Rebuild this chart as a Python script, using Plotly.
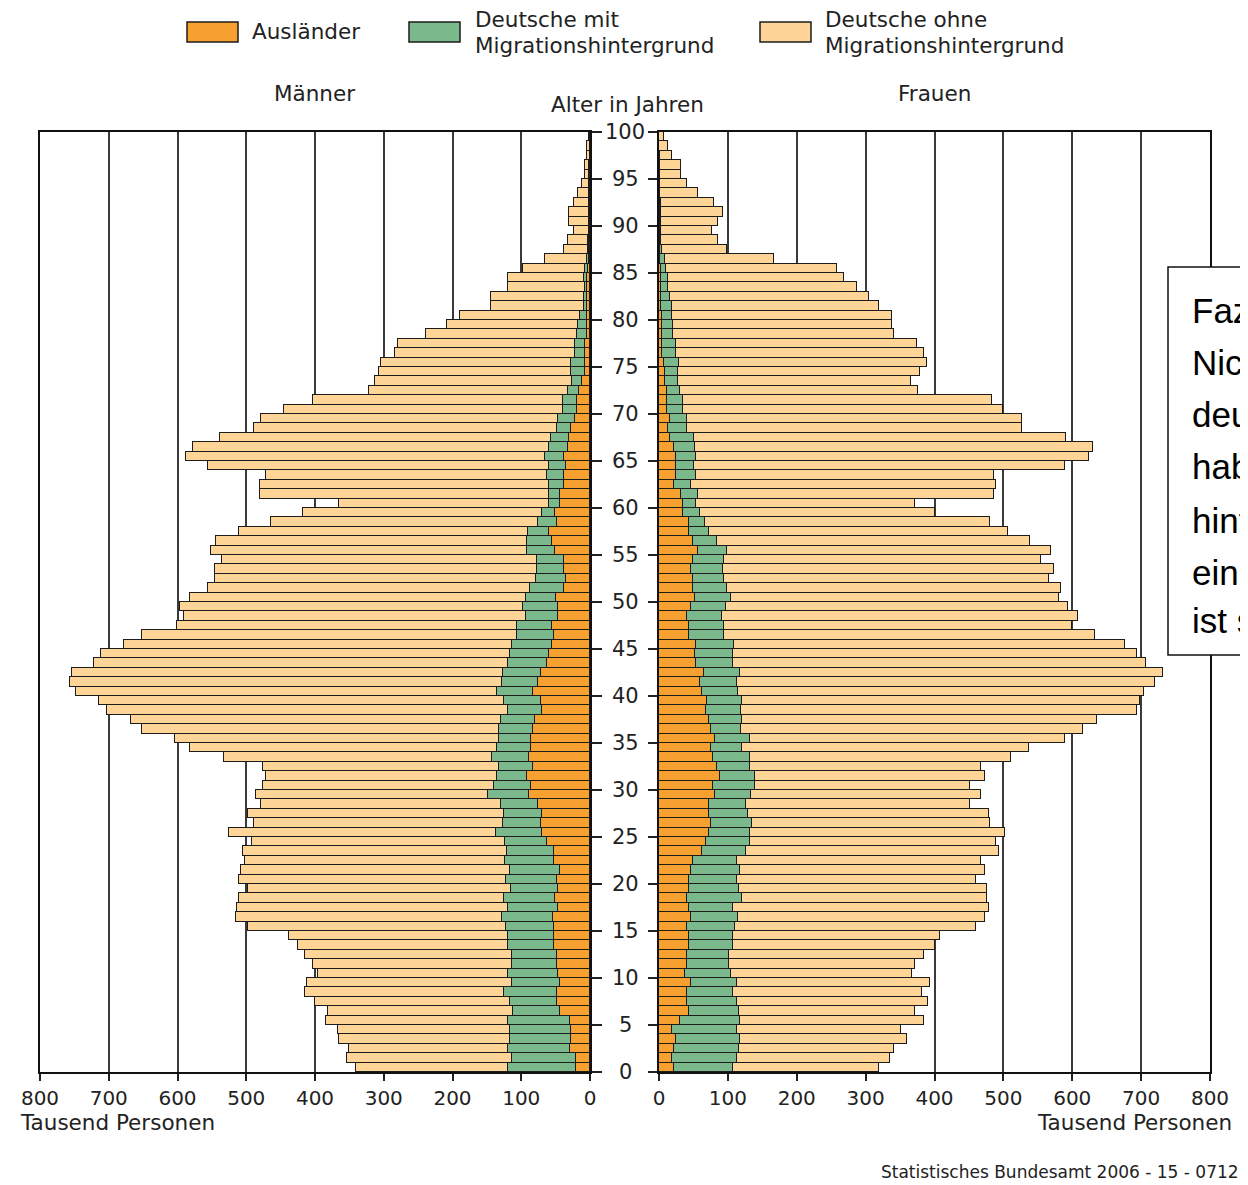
import plotly.graph_objects as go

# page is shown with an 8px body margin; figure sized to fill the rest
OFF = 8
W, H = 1240, 1177

ages = list(range(100))

# Männer (Tausend Personen), ages 0..99
m_auslaender = [21, 21, 29, 27, 28, 29, 43, 48, 48, 43,
                46, 48, 48, 52, 52, 52, 54, 46, 51, 46,
                48, 43, 53, 53, 63, 70, 72, 70, 75, 89,
                86, 91, 83, 89, 86, 86, 83, 80, 70, 72,
                83, 75, 72, 62, 59, 55, 52, 55, 47, 47,
                50, 38, 35, 38, 38, 51, 56, 59, 48, 51,
                43, 43, 38, 38, 35, 38, 32, 30, 27, 22,
                19, 19, 16, 11, 8, 8, 7, 7, 5, 4,
                4, 4, 4, 4, 4, 3, 2, 1, 1, 1,
                1, 1, 1, 0.5, 0.5, 0.5, 0.5, 0.3, 0.3, 0.2]
m_mit = [98, 93, 90, 90, 89, 90, 69, 69, 77, 71,
         74, 66, 66, 68, 68, 70, 74, 74, 74, 69,
         74, 74, 70, 68, 60, 67, 55, 55, 55, 59,
         53, 45, 50, 53, 50, 47, 50, 50, 50, 53,
         53, 53, 55, 58, 58, 59, 54, 51, 46, 51,
         43, 50, 44, 39, 39, 41, 36, 31, 27, 19,
         16, 16, 22, 24, 24, 27, 27, 27, 21, 24,
         20, 21, 16, 15, 19, 19, 15, 15, 14, 14,
         11, 5, 5, 4, 5, 4, 3, 2, 2, 1,
         1, 1, 1, 1, 0.5, 0.5, 0.5, 0.3, 0.3, 0.2]
m_ohne = [221, 239, 231, 248, 250, 265, 269, 283, 289, 297,
          275, 289, 300, 305, 318, 376, 387, 393, 385, 383,
          388, 390, 379, 384, 369, 388, 362, 372, 348, 338,
          336, 336, 342, 391, 446, 471, 518, 537, 583, 589,
          611, 628, 626, 602, 594, 564, 545, 495, 498, 498,
          489, 467, 467, 469, 458, 460, 452, 420, 389, 348,
          306, 421, 420, 410, 496, 523, 518, 481, 441, 432,
          406, 363, 289, 287, 280, 277, 261, 258, 219, 190,
          174, 135, 135, 112, 111, 91, 61, 35, 29, 22,
          28, 28, 22, 16.5, 11, 6, 6, 3.4, 3.4, 1.6]

# Frauen (Tausend Personen), ages 0..99
f_auslaender = [22, 19, 22, 24, 19, 30, 44, 41, 41, 46,
                38, 41, 41, 44, 44, 41, 46, 44, 41, 44,
                44, 46, 50, 62, 68, 73, 76, 73, 73, 81,
                79, 88, 84, 79, 76, 81, 76, 73, 68, 70,
                62, 60, 65, 54, 52, 54, 43, 43, 40, 46,
                52, 49, 49, 46, 50, 57, 50, 43, 43, 35,
                35, 32, 22, 24, 24, 24, 22, 16, 13, 16,
                11, 11, 11, 8, 8, 7.5, 5, 5, 5, 5,
                4, 3, 3, 3, 3, 3, 1, 1, 1, 1,
                1, 1, 1, 0.5, 0.5, 0.5, 0.5, 0.3, 0.3, 0.2]
f_mit = [86, 94, 94, 94, 94, 88, 72, 72, 67, 67,
         67, 61, 61, 64, 64, 69, 69, 64, 80, 72,
         69, 72, 63, 64, 64, 59, 59, 56, 53, 53,
         61, 52, 48, 53, 45, 51, 43, 48, 51, 51,
         53, 53, 53, 53, 56, 55, 51, 51, 51, 51,
         53, 50, 45, 47, 44, 42, 34, 30, 24, 24,
         19, 24, 24, 30, 27, 30, 30, 35, 27, 24,
         24, 24, 19, 19, 19, 22, 19, 19, 16, 16,
         15, 16, 13, 10, 10, 7.5, 7.5, 3, 2, 2,
         2, 2, 2, 1, 1, 1, 0.5, 0.5, 0.3, 0.3]
f_ohne = [211, 223, 225, 242, 239, 267, 255, 277, 274, 281,
          263, 269, 283, 292, 300, 350, 358, 371, 355, 360,
          347, 355, 355, 367, 357, 371, 346, 350, 325, 334,
          311, 333, 336, 379, 416, 457, 497, 515, 575, 578,
          589, 607, 614, 600, 586, 567, 539, 506, 517, 497,
          476, 484, 472, 480, 461, 470, 455, 433, 414, 342,
          317, 431, 443, 433, 538, 571, 578, 540, 487, 487,
          465, 449, 346, 339, 352, 360, 361, 350, 320, 318,
          320, 300, 289, 274, 256, 248, 159, 95, 82, 74,
          82, 90, 77, 55, 39, 30, 31, 18, 12, 7]

series_names = ["Ausländer", "Deutsche mit Migrationshintergrund", "Deutsche ohne Migrationshintergrund"]
colors = ["#F6A12F", "#7BB98D", "#FFD597"]
x_ticks = [0, 100, 200, 300, 400, 500, 600, 700, 800]
age_ticks = list(range(0, 101, 5))

FONT = "DejaVu Sans, Verdana, sans-serif"

def px(x):
    return (x - OFF) / W

def py(y):
    return 1 - (y - OFF) / H

fig = go.Figure()
for vals, name, col in zip([m_auslaender, m_mit, m_ohne], series_names, colors):
    fig.add_trace(go.Bar(x=vals, y=ages, orientation="h", name=name, offset=0, width=1,
                         marker=dict(color=col, line=dict(color="#1c1c1c", width=1.3)),
                         xaxis="x", yaxis="y", showlegend=False))
for vals, name, col in zip([f_auslaender, f_mit, f_ohne], series_names, colors):
    fig.add_trace(go.Bar(x=vals, y=ages, orientation="h", name=name, offset=0, width=1,
                         marker=dict(color=col, line=dict(color="#1c1c1c", width=1.3)),
                         xaxis="x2", yaxis="y2", showlegend=False))

y_dom = [py(1072), py(132)]
common_x = dict(tickvals=x_ticks, ticktext=[str(v) for v in x_ticks], ticks="outside", ticklen=7,
                tickcolor="#222", tickwidth=1.5, showgrid=True, gridcolor="#3a3a3a", gridwidth=1.6,
                showline=True, linecolor="#111", linewidth=1.6, mirror=True, zeroline=False,
                automargin=False,
                tickfont=dict(family=FONT, size=20, color="#222"), fixedrange=True)
common_y = dict(range=[0, 100], tickvals=age_ticks, ticks="outside", tickcolor="#222", tickwidth=1.5,
                showticklabels=False, showgrid=False, showline=True, linecolor="#111", linewidth=1.6,
                mirror=True, zeroline=False, domain=y_dom, fixedrange=True, automargin=False)

fig.update_layout(
    width=W, height=H, margin=dict(l=0, r=0, t=0, b=0, autoexpand=False),
    paper_bgcolor="white", plot_bgcolor="white",
    barmode="stack", bargap=0, showlegend=False,
    xaxis=dict(domain=[px(40), px(590)], range=[800, 0], anchor="y", **common_x),
    xaxis2=dict(domain=[px(659), px(1210)], range=[0, 800], anchor="y2", **common_x),
    yaxis=dict(anchor="x", side="right", ticklen=10, **common_y),
    yaxis2=dict(anchor="x2", side="left", ticklen=9, **common_y),
)

ann = []
# age labels in the middle column
for a in age_ticks:
    ann.append(dict(x=px(625), y=a, xref="paper", yref="y", text=str(a), showarrow=False,
                    xanchor="center", yanchor="middle", font=dict(family=FONT, size=21, color="#222")))

def txt(x, y, t, anchor="left", size=21.5, family=FONT, color="#222"):
    ann.append(dict(x=px(x), y=py(y), xref="paper", yref="paper", text=t, showarrow=False,
                    xanchor=anchor, yanchor="middle", font=dict(family=family, size=size, color=color)))

txt(314, 93, "Männer", "center")
txt(934, 93, "Frauen", "center")
txt(627, 104, "Alter in Jahren", "center")
txt(18, 1122, "Tausend Personen", "left")
txt(1234, 1122, "Tausend Personen", "right")
txt(1241, 1172, "Statistisches Bundesamt 2006 - 15 - 0712", "right", size=17)

# legend
legend_items = [(187, [("Ausländer", 32)], 250),
                (409, [("Deutsche mit", 19), ("Migrationshintergrund", 45)], 473),
                (760, [("Deutsche ohne", 19), ("Migrationshintergrund", 45)], 823)]
shapes = []
for (sx, lines, tx), col in zip(legend_items, colors):
    shapes.append(dict(type="rect", xref="paper", yref="paper", x0=px(sx), x1=px(sx + 51),
                       y0=py(42), y1=py(22), fillcolor=col, line=dict(color="#1c1c1c", width=1.5)))
    for t, yy in lines:
        txt(tx, yy, t, "left")

# text box on the right, cut off by the page edge as in the original
shapes.append(dict(type="rect", xref="paper", yref="paper", x0=px(1168), x1=px(1400),
                   y0=py(655), y1=py(267), fillcolor="white", line=dict(color="#111", width=1.5)))
box_lines = [("Fazit:", 310), ("Nicht alle", 362), ("deutschen Bürger", 415), ("haben keinen", 467),
             ("hintergrund", 520), ("ein Viertel", 572), ("ist selbst", 620)]
for t, yy in box_lines:
    txt(1190, yy, t, "left", size=35, family="Liberation Sans, Arial, sans-serif", color="#000")

fig.update_layout(annotations=ann, shapes=shapes)
fig.write_html("out.html")
